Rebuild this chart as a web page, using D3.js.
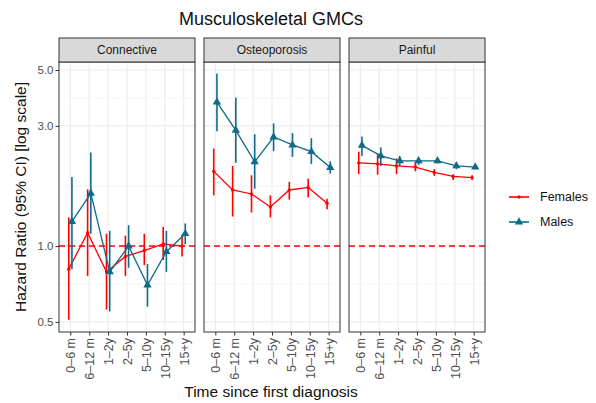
<!DOCTYPE html>
<html>
<head>
<meta charset="utf-8">
<script src="https://cdn.jsdelivr.net/npm/d3@7"></script>
<style>
  body { margin: 0; background: #fff; }
  text { font-family: "Liberation Sans", Arial, sans-serif; }
</style>
</head>
<body>
<svg id="chart" width="596" height="403"></svg>
<script>
// Values
const periods = ["0\u20136 m", "6\u201312 m", "1\u20132y", "2\u20135y", "5\u201310y", "10\u201315y", "15+y"];
const panels = ["Connective", "Osteoporosis", "Painful"];
const yTicks = [0.5, 1.0, 3.0, 5.0];

// Females: hazard ratio, lower and upper CI per panel
const femHR = [
  [0.81, 1.13, 0.79, 0.91, 0.96, 1.02, 1.00],
  [1.98, 1.67, 1.61, 1.43, 1.67, 1.71, 1.48],
  [2.14, 2.12, 2.08, 2.06, 1.96, 1.89, 1.87]
];
const femLo = [
  [0.51, 0.76, 0.56, 0.76, 0.84, 0.88, 0.91],
  [1.59, 1.31, 1.36, 1.30, 1.53, 1.56, 1.40],
  [1.93, 1.92, 1.93, 1.98, 1.90, 1.83, 1.83]
];
const femHi = [
  [1.30, 1.68, 1.12, 1.10, 1.12, 1.19, 1.11],
  [2.44, 2.08, 1.91, 1.59, 1.80, 1.85, 1.54],
  [2.37, 2.33, 2.23, 2.16, 2.02, 1.93, 1.91]
];

// Males
const maleHR = [
  [1.25, 1.62, 0.79, 1.00, 0.70, 0.95, 1.12],
  [3.73, 2.88, 2.16, 2.71, 2.52, 2.37, 2.05],
  [2.51, 2.28, 2.18, 2.18, 2.18, 2.08, 2.06]
];
const maleLo = [
  [0.81, 1.12, 0.55, 0.82, 0.575, 0.79, 1.016],
  [2.86, 2.14, 1.69, 2.38, 2.26, 2.12, 1.94],
  [2.28, 2.08, 2.08, 2.10, 2.13, 2.02, 2.02]
];
const maleHi = [
  [1.88, 2.35, 1.15, 1.21, 0.85, 1.15, 1.23],
  [4.83, 3.88, 2.78, 3.07, 2.81, 2.68, 2.17],
  [2.72, 2.46, 2.28, 2.25, 2.22, 2.15, 2.10]
];

const red = "#FF0000";
const blue = "#0F6A8B";
const grey = "#4D4D4D";

const svg = d3.select("#chart");

const panelW = 136, gap = 9, left0 = 59;
const stripTop = 38, plotTop = 62, plotBottom = 332;

const y = d3.scaleLog().domain([0.456, 5.38]).range([plotBottom, plotTop]);
const minorTicks = [Math.sqrt(0.5), Math.sqrt(3), Math.sqrt(15)];

const series = [
  { name: "Females", color: red, hr: femHR, lo: femLo, hi: femHi, shift: -1.6, shape: "circle" },
  { name: "Males", color: blue, hr: maleHR, lo: maleLo, hi: maleHi, shift: 1.6, shape: "triangle" }
];

function marker(shape) {
  return shape === "circle"
    ? d3.symbol().type(d3.symbolCircle).size(9)
    : d3.symbol().type(d3.symbolTriangle).size(30);
}

// Title
svg.append("text")
  .attr("x", 271).attr("y", 25)
  .attr("text-anchor", "middle")
  .attr("font-size", 18)
  .attr("fill", "#111")
  .text("Musculoskeletal GMCs");

panels.forEach(function(name, p) {
  const x0 = left0 + p * (panelW + gap);
  const x = d3.scalePoint().domain(periods).range([x0, x0 + panelW]).padding(0.6);
  const g = svg.append("g");

  // grid
  g.selectAll(".minor").data(minorTicks).join("line")
    .attr("x1", x0).attr("x2", x0 + panelW)
    .attr("y1", d => y(d)).attr("y2", d => y(d))
    .attr("stroke", "#F0F0F0").attr("stroke-width", 0.6);
  g.selectAll(".major").data(yTicks).join("line")
    .attr("x1", x0).attr("x2", x0 + panelW)
    .attr("y1", d => y(d)).attr("y2", d => y(d))
    .attr("stroke", "#EBEBEB").attr("stroke-width", 1.1);
  g.selectAll(".vgrid").data(periods).join("line")
    .attr("x1", d => x(d)).attr("x2", d => x(d))
    .attr("y1", plotTop).attr("y2", plotBottom)
    .attr("stroke", "#EBEBEB").attr("stroke-width", 1.1);

  // reference line at 1
  g.append("line")
    .attr("x1", x0).attr("x2", x0 + panelW)
    .attr("y1", y(1)).attr("y2", y(1))
    .attr("stroke", red).attr("stroke-width", 1.5)
    .attr("stroke-dasharray", "6,4");

  series.forEach(function(s) {
    const pts = periods.map((d, i) => ({
      x: x(d) + s.shift, hr: s.hr[p][i], lo: s.lo[p][i], hi: s.hi[p][i]
    }));
    g.append("path")
      .datum(pts)
      .attr("fill", "none")
      .attr("stroke", s.color)
      .attr("stroke-width", 1.3)
      .attr("d", d3.line().x(d => d.x).y(d => y(d.hr)));
    g.selectAll(null).data(pts).join("line")
      .attr("x1", d => d.x).attr("x2", d => d.x)
      .attr("y1", d => y(d.lo)).attr("y2", d => y(d.hi))
      .attr("stroke", s.color).attr("stroke-width", 1.6);
    g.selectAll(null).data(pts).join("path")
      .attr("transform", d => "translate(" + d.x + "," + y(d.hr) + ")")
      .attr("d", marker(s.shape))
      .attr("fill", s.color);
  });

  // panel border
  g.append("rect")
    .attr("x", x0).attr("y", plotTop)
    .attr("width", panelW).attr("height", plotBottom - plotTop)
    .attr("fill", "none").attr("stroke", "#333").attr("stroke-width", 1);

  // strip
  g.append("rect")
    .attr("x", x0).attr("y", stripTop)
    .attr("width", panelW).attr("height", plotTop - stripTop)
    .attr("fill", "#D9D9D9").attr("stroke", "#333").attr("stroke-width", 1);
  g.append("text")
    .attr("x", x0 + panelW / 2).attr("y", stripTop + 16)
    .attr("text-anchor", "middle")
    .attr("font-size", 12)
    .attr("fill", "#1A1A1A")
    .text(name);

  // x axis
  const xAxis = d3.axisBottom(x).tickSize(3.5).tickPadding(3);
  const ax = g.append("g")
    .attr("transform", "translate(0," + plotBottom + ")")
    .call(xAxis);
  ax.select(".domain").remove();
  ax.selectAll(".tick line").attr("stroke", "#333");
  ax.selectAll(".tick text")
    .attr("font-size", 12.5)
    .attr("fill", grey)
    .attr("transform", "rotate(-90)")
    .attr("text-anchor", "end")
    .attr("x", -6).attr("y", 0)
    .attr("dy", "0.35em");
});

// y axis
const yAxis = d3.axisLeft(y).tickValues(yTicks).tickFormat(d3.format(".1f")).tickSize(3.5).tickPadding(2);
const ay = svg.append("g")
  .attr("transform", "translate(" + left0 + ",0)")
  .call(yAxis);
ay.select(".domain").remove();
ay.selectAll(".tick line").attr("stroke", "#333");
ay.selectAll(".tick text").attr("font-size", 11.5).attr("fill", grey);

// axis titles
svg.append("text")
  .attr("transform", "translate(26," + ((plotTop + plotBottom) / 2) + ") rotate(-90)")
  .attr("text-anchor", "middle")
  .attr("font-size", 15.5)
  .attr("fill", "#111")
  .text("Hazard Ratio (95% CI) [log scale]");
svg.append("text")
  .attr("x", 271).attr("y", 397)
  .attr("text-anchor", "middle")
  .attr("font-size", 15.5)
  .attr("fill", "#111")
  .text("Time since first diagnosis");

// legend
const leg = svg.append("g").attr("transform", "translate(509,197)");
series.forEach(function(s, i) {
  const row = leg.append("g").attr("transform", "translate(0," + (i * 25) + ")");
  row.append("line")
    .attr("x1", 0).attr("x2", 20)
    .attr("stroke", s.color).attr("stroke-width", 1.6);
  row.append("path")
    .attr("transform", "translate(10,0)")
    .attr("d", marker(s.shape))
    .attr("fill", s.color);
  row.append("text")
    .attr("x", 31).attr("y", 0).attr("dy", "0.35em")
    .attr("font-size", 12.5)
    .attr("fill", "#111")
    .text(s.name);
});
</script>
</body>
</html>
